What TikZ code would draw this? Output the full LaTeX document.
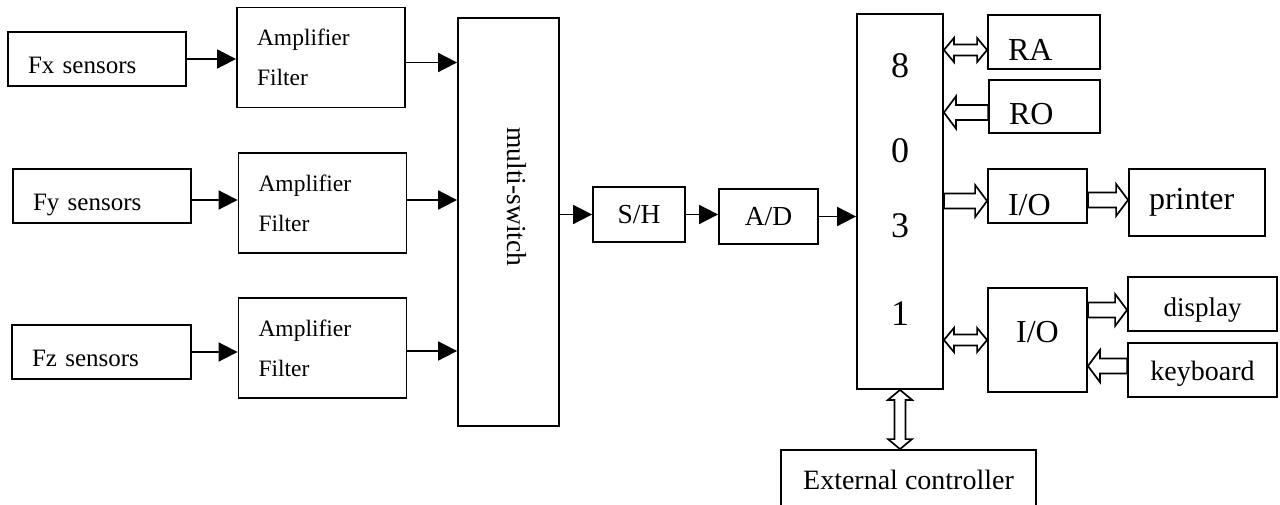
\documentclass[tikz,border=0pt]{standalone}
\usepackage{fontspec}
\setmainfont{Liberation Serif}
\usetikzlibrary{arrows.meta, calc}
\newcommand\fsz[1]{\fontsize{#1}{#1}\selectfont}

\begin{document}
\begin{tikzpicture}[x=1pt, y=-1pt,
    box/.style={draw, line width=1.8pt, inner sep=0pt, align=center},
    lbox/.style={box, align=left, inner xsep=20pt, text width=#1},
    low/.style={text height=#1, text depth=0pt},
    amp/.style={box, align=left, inner xsep=20pt, text width=128pt,
                minimum width=168pt, minimum height=100pt,
                font=\fontsize{23.5}{40}\selectfont},
    arr/.style={-{Triangle[length=19pt, width=19pt]}, line width=1.8pt},
    hollow/.style={draw, fill=white, line width=1.7pt, to path={
      let \p1=(\tikztostart), \p2=(\tikztotarget), \p3=($(\p2)-(\p1)$),
          \n1={atan2(\y3,\x3)} in
      ($(\p1)+({\n1+90}:7.5pt)$)
      -- ($(\p2)+({\n1+180}:12pt)+({\n1+90}:7.5pt)$)
      -- ($(\p2)+({\n1+180}:12pt)+({\n1+90}:16pt)$)
      -- (\p2)
      -- ($(\p2)+({\n1+180}:12pt)+({\n1-90}:16pt)$)
      -- ($(\p2)+({\n1+180}:12pt)+({\n1-90}:7.5pt)$)
      -- ($(\p1)+({\n1-90}:7.5pt)$) -- cycle}},
    hollowboth/.style={draw, fill=white, line width=1.7pt, to path={
      let \p1=(\tikztostart), \p2=(\tikztotarget), \p3=($(\p2)-(\p1)$),
          \n1={atan2(\y3,\x3)} in
      (\p1)
      -- ($(\p1)+(\n1:10pt)+({\n1+90}:12pt)$)
      -- ($(\p1)+(\n1:10pt)+({\n1+90}:5.5pt)$)
      -- ($(\p2)+({\n1+180}:10pt)+({\n1+90}:5.5pt)$)
      -- ($(\p2)+({\n1+180}:10pt)+({\n1+90}:12pt)$)
      -- (\p2)
      -- ($(\p2)+({\n1+180}:10pt)+({\n1-90}:12pt)$)
      -- ($(\p2)+({\n1+180}:10pt)+({\n1-90}:5.5pt)$)
      -- ($(\p1)+(\n1:10pt)+({\n1-90}:5.5pt)$)
      -- ($(\p1)+(\n1:10pt)+({\n1-90}:12pt)$) -- cycle}}
  ]
    \useasboundingbox (0,0) rectangle (1280,505);
    \clip (0,0) rectangle (1280,505);

    \node[lbox=138pt, low=28.5pt, minimum height=54pt, font=\fsz{25}] (fx) at (97,59) {Fx sensors};
    \node[lbox=138pt, low=28.5pt, minimum height=54pt, font=\fsz{25}] (fy) at (102,196) {Fy sensors};
    \node[lbox=139pt, low=28.5pt, minimum height=54pt, font=\fsz{25}] (fz) at (101.5,352) {Fz sensors};

    \node[amp] (amp1) at (321,57.5) {Amplifier\\Filter};
    \node[amp] (amp2) at (322.5,203) {Amplifier\\Filter};
    \node[amp] (amp3) at (322.5,348) {Amplifier\\Filter};

    \node[box, minimum width=101pt, minimum height=408pt] (msw) at (508.5,222) {};
    \node[rotate=-90, font=\fsz{27.5}] (mswtext) at (517,197) {multi-switch};

    \node[box, minimum width=92pt, minimum height=55pt, font=\fsz{27.5}] (sh) at (639,214.5) {S/H};
    \node[box, minimum width=99pt, minimum height=55pt, font=\fsz{27.5}] (ad) at (768.5,216.5) {A/D};

    \node[box, minimum width=86pt, minimum height=375pt, font=\fsz{36}] (cpu) at (900,201.5)
      {\raisebox{0pt}[\height][\dimexpr\depth+14pt\relax]{%
        \begin{tabular}{@{}c@{}}8\\[49pt]0\\[39pt]3\\[52pt]1\end{tabular}}};

    \node[lbox=72pt, low=37pt, minimum height=54pt, font=\fsz{32}] (ra) at (1044,42) {RA};
    \node[lbox=71pt, low=36pt, minimum height=53pt, font=\fsz{32}] (ro) at (1044.5,106.5) {RO};
    \node[lbox=59pt, low=39pt, minimum height=54pt, font=\fsz{32}] (io1) at (1037.5,196) {I/O};
    \node[lbox=96pt, minimum height=67pt, font=\fsz{32}] (printer) at (1197,202.5) {printer};
    \node[box, low=5pt, minimum width=99pt, minimum height=104pt, font=\fsz{32}] (io2) at (1037.5,340) {I/O};
    \node[box, low=24pt, minimum width=149pt, minimum height=54pt, font=\fsz{27}] (display) at (1202.5,304) {display};
    \node[box, low=21pt, minimum width=149pt, minimum height=54pt, font=\fsz{28}] (keyboard) at (1202.5,370) {keyboard};
    \node[box, minimum width=255pt, minimum height=60pt, font=\fsz{28}] (ext) at (908.5,480) {External controller};

    \draw[arr] (fx.east) -- (fx.east -| amp1.west);
    \draw[arr] ([yshift=-4pt]fy.east) -- ([yshift=-4pt]fy.east -| amp2.west);
    \draw[arr] (fz.east) -- (fz.east -| amp3.west);
    \coordinate (a1out) at ([yshift=-5pt]amp1.east);
    \coordinate (a2out) at ([yshift=3pt]amp2.east);
    \coordinate (a3out) at ([yshift=-3pt]amp3.east);
    \draw[arr] (a1out) -- (a1out -| msw.west);
    \draw[arr] (a2out) -- (a2out -| msw.west);
    \draw[arr] (a3out) -- (a3out -| msw.west);
    \draw[arr] (sh.west -| msw.east) -- (sh.west);
    \draw[arr] (sh.east) -- (sh.east -| ad.west);
    \draw[arr] (ad.east) -- (ad.east -| cpu.west);

    \coordinate (raport) at ([yshift=-8pt]ra.west);
    \coordinate (roport) at ([yshift=-6pt]ro.west);
    \coordinate (io1port) at ([yshift=-5pt]io1.west);
    \coordinate (prport) at ([yshift=-4pt]io1.east);
    \coordinate (dport) at ([yshift=-6pt]display.west);
    \coordinate (kport) at ([yshift=4pt]keyboard.west);
    \draw[hollowboth] (raport -| cpu.east) to (raport);
    \draw[hollow] (roport) to (roport -| cpu.east);
    \draw[hollow] (io1port -| cpu.east) to (io1port);
    \draw[hollow] (prport) to (prport -| printer.west);
    \draw[hollowboth] (io2.west -| cpu.east) to (io2.west);
    \draw[hollow] (dport -| io2.east) to (dport);
    \draw[hollow] (kport) to (kport -| io2.east);
    \draw[hollowboth] (cpu.south) to (cpu.south |- ext.north);
  \end{tikzpicture}
\end{document}
